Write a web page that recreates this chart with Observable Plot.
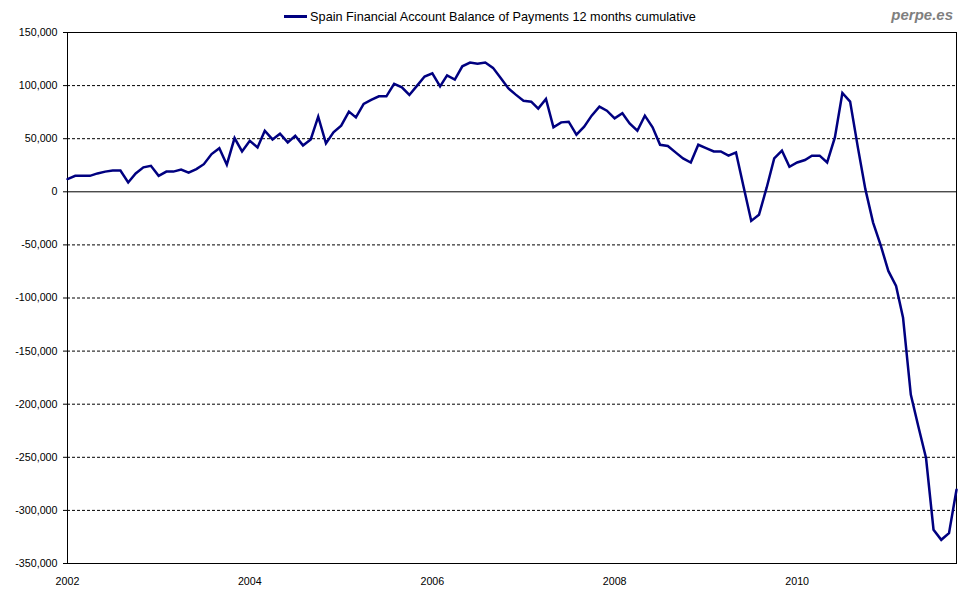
<!DOCTYPE html>
<html>
<head>
<meta charset="utf-8">
<script src="https://cdn.jsdelivr.net/npm/d3@7"></script>
<script src="https://cdn.jsdelivr.net/npm/@observablehq/plot@0.6"></script>
<style>
  html, body { margin: 0; padding: 0; background: #fff; }
  #wrap { position: relative; width: 980px; height: 600px; font-family: "Liberation Sans", Arial, sans-serif; }
  #title { position: absolute; left: 0; width: 980px; top: 9px; text-align: center; font-size: 12.7px; color: #000; line-height: 16px; white-space: nowrap; }
  #title .sw { display: inline-block; width: 23px; height: 2.5px; background: #000080; vertical-align: middle; margin-right: 3px; position: relative; top: -1px; }
  #brand { position: absolute; right: 27px; top: 6px; font-size: 15px; font-weight: bold; font-style: italic; color: #7f7f7f; }
  #chart { position: absolute; left: 0; top: 0; }
</style>
</head>
<body>
<div id="wrap">
  <div id="chart"></div>
  <div id="title"><span class="sw"></span>Spain Financial Account Balance of Payments 12 months cumulative</div>
  <div id="brand">perpe.es</div>
</div>
<script>
// First month of the series (monthly data)
const firstMonth = "2002-01-01";
// Spain financial account balance of payments, 12-month cumulative (EUR millions), monthly
const values = [
  12000, 15000, 15000, 15000, 17300, 19000, 20000, 20000, 8800, 17300, 23000, 24500,
  15000, 19000, 19000, 21000, 18000, 21400, 26000, 35500, 41000, 25500, 50600, 38000,
  48000, 41800, 57500, 49300, 54700, 46500, 52800, 43700, 49300, 70700, 45600, 56000,
  62300, 75500, 70100, 82700, 86500, 89900, 89900, 101600, 98400, 91200, 100000, 108500,
  111600, 99300, 109700, 105700, 118200, 121700, 120700, 121700, 116700, 107300, 97500, 91500,
  85800, 84900, 78300, 87400, 60700, 65400, 66000, 53800, 61300, 71700, 80200, 76400,
  69200, 73900, 64400, 57500, 71700, 60700, 44300, 43100, 37100, 31400, 27600, 44300,
  41200, 38000, 38000, 34000, 37100, 4100, -27400, -21700, 4100, 31400, 38700, 23600,
  27600, 29900, 34000, 34000, 27600, 51200, 93100, 84900, 41800, 2500, -29000, -50000,
  -74500, -88700, -118600, -190900, -220800, -250700, -318200, -327700, -321400, -280500
];
const yTicks = [150000, 100000, 50000, 0, -50000, -100000, -150000, -200000, -250000, -300000, -350000];
const xTickYears = ["2002", "2004", "2006", "2008", "2010"];
const yDomain = [-350000, 150000];

const start = new Date(firstMonth);
const data = values.map((v, i) => ({ date: d3.utcMonth.offset(start, i), value: v }));
const xDomain = [data[0].date, data[data.length - 1].date];
const xTicks = xTickYears.map(y => new Date(y + "-01-01"));
const gridDashed = yTicks.filter(t => t !== 0 && t !== yDomain[0] && t !== yDomain[1]);

const chart = Plot.plot({
  width: 980,
  height: 600,
  marginLeft: 67,
  marginRight: 24,
  marginTop: 32,
  marginBottom: 37,
  style: { fontFamily: "'Liberation Sans', Arial, sans-serif", fontSize: "10.7px", color: "#000", background: "#fff" },
  x: { type: "utc", domain: xDomain, label: null },
  y: { domain: yDomain, label: null },
  marks: [
    Plot.ruleY(gridDashed, { stroke: "#000", strokeWidth: 1, strokeDasharray: "3,2" }),
    Plot.ruleY([0], { stroke: "#000", strokeWidth: 1 }),
    Plot.frame({ stroke: "#000", strokeWidth: 1 }),
    Plot.axisY({ ticks: yTicks, tickSize: 4, tickPadding: 6, tickFormat: d => d.toLocaleString("en-US"), label: null, stroke: "#000" }),
    Plot.axisX({ ticks: xTicks, tickSize: 0, tickPadding: 14, tickFormat: d3.utcFormat("%Y"), label: null }),
    Plot.lineY(data, { x: "date", y: "value", stroke: "#000080", strokeWidth: 2.5, strokeLinejoin: "miter", strokeMiterlimit: 4 })
  ]
});
document.getElementById("chart").appendChild(chart);
</script>
</body>
</html>
